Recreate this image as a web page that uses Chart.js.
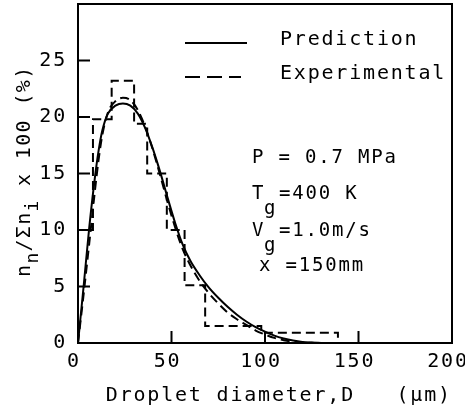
<!DOCTYPE html>
<html>
<head>
<meta charset="utf-8">
<script src="https://cdn.jsdelivr.net/npm/chart.js@4.4.1/dist/chart.umd.min.js"></script>
<style>
html,body{margin:0;padding:0;background:#fff;}
#wrap{width:465px;height:414px;}
</style>
</head>
<body>
<div id="wrap"><canvas id="c" width="465" height="414"></canvas></div>
<script>
// ---- data ----
const diameters = [0,3,6,9,11,13,16,20,24,28,32,36,40,44,48,52,56,60,65,70,75,80,85,90,95,100,105,110,115,120,125,130];
const predictionValues = [0,5.0,10.2,14.6,17.0,18.8,20.3,21.0,21.2,21.0,20.3,19.0,17.2,15.1,12.8,10.6,8.7,7.3,6.0,4.9,4.0,3.2,2.5,1.9,1.4,1.0,0.65,0.4,0.22,0.1,0.04,0];
const experimentalFitValues = [0,4.3,8.8,13.4,16.2,18.4,20.4,21.4,21.7,21.5,20.6,19.1,17.1,14.8,12.4,10.2,8.3,6.9,5.5,4.4,3.5,2.7,2.1,1.6,1.1,0.75,0.45,0.25,0.12,0.05,0.02,0];
const histogramEdges = [0,0,8,18,30,37,47.5,57,68,98,139];
const histogramValues = [0,10,19.8,23.2,19.4,15,10,5.1,1.5,0.9,0];
const xTickValues = [0,50,100,150,200];
const yTickValues = [0,5,10,15,20,25];
const seriesLabels = ['Prediction','Experimental'];
const xTitle = '  Droplet diameter,D   (μm)';
// y title pieces: [text, isSubscript]
const yTitleParts = [['n',false],['n',true],['/Σn',false],['i',true],[' x 100 (%)',false]];
const conditionLines = [
  {main:'P = 0.7 MPa', sub:'', rest:''},
  {main:'T', sub:'g', rest:'=400 K'},
  {main:'V', sub:'g', rest:'=1.0m/s'},
  {main:'x =150mm', sub:'', rest:''}
];

const FONT = "'DejaVu Sans Mono', 'Liberation Mono', monospace";
const SPACING = '1.8px';
Chart.defaults.font.family = FONT;
Chart.defaults.color = '#000';

const spacingPlugin = {
  id:'spacing',
  beforeUpdate(c){ c.ctx.letterSpacing = SPACING; },
  beforeLayout(c){ c.ctx.letterSpacing = SPACING; },
  beforeDraw(c){ c.ctx.letterSpacing = SPACING; }
};

const overlayPlugin = {
  id:'overlay',
  afterDraw(c){
    const ctx = c.ctx, a = c.chartArea, xs = c.scales.x, ys = c.scales.y;
    ctx.save();
    ctx.letterSpacing = SPACING;
    ctx.strokeStyle = '#000';
    ctx.lineWidth = 2;
    ctx.setLineDash([]);
    ctx.strokeRect(a.left, a.top, a.right - a.left, a.bottom - a.top);
    // inward tick marks
    ctx.beginPath();
    xs.ticks.forEach(t => { const p = xs.getPixelForValue(t.value); ctx.moveTo(p, a.bottom); ctx.lineTo(p, a.bottom - 12); });
    ys.ticks.forEach(t => { const p = ys.getPixelForValue(t.value); ctx.moveTo(a.left, p); ctx.lineTo(a.left + 12, p); });
    ctx.stroke();
    // legend
    ctx.font = '20px ' + FONT;
    ctx.fillStyle = '#000';
    ctx.textBaseline = 'middle';
    ctx.textAlign = 'left';
    const lx0 = a.left + 107;
    const rows = [{y:39, len:62, dash:[]}, {y:73, len:56, dash:[15,7]}];
    seriesLabels.forEach((lab, i) => {
      const r = rows[i];
      ctx.setLineDash(r.dash);
      ctx.beginPath();
      ctx.moveTo(lx0, a.top + r.y);
      ctx.lineTo(lx0 + r.len, a.top + r.y);
      ctx.stroke();
      ctx.fillText(lab, a.left + 202, a.top + r.y - 3);
    });
    ctx.setLineDash([]);
    // operating conditions
    ctx.font = '19px ' + FONT;
    const cx = a.left + 174;
    const cy = [154, 190, 227, 262];
    conditionLines.forEach((ln, i) => {
      const y = a.top + cy[i];
      ctx.fillText(ln.main, cx + (i === 3 ? 7 : 0), y);
      if (ln.sub) {
        ctx.fillText(ln.sub, cx + 12, y + 15);
        ctx.fillText(ln.rest, cx + 27, y);
      }
    });
    // rotated y-axis title with subscripts, laid out character by character
    ctx.save();
    ctx.translate(25, 277);
    ctx.rotate(-Math.PI / 2);
    ctx.letterSpacing = '0px';
    let u = 0;
    yTitleParts.forEach(([t, s]) => {
      ctx.font = (s ? '18px ' : '20px ') + FONT;
      for (const ch of t) {
        ctx.fillText(ch, u, s ? 8 : 0);
        u += s ? 12 : 13.4;
      }
    });
    ctx.restore();
    ctx.restore();
  }
};

const pts = (xsArr, ysArr) => xsArr.map((x, i) => ({x, y: ysArr[i]}));

new Chart(document.getElementById('c'), {
  type:'line',
  data:{
    datasets:[
      {label:seriesLabels[0], data:pts(diameters, predictionValues), borderColor:'#000', borderWidth:2, pointRadius:0, cubicInterpolationMode:'monotone', fill:false},
      {label:seriesLabels[1], data:pts(diameters, experimentalFitValues), borderColor:'#000', borderWidth:2, borderDash:[9,5], pointRadius:0, cubicInterpolationMode:'monotone', fill:false},
      {label:seriesLabels[1] + ' histogram', data:pts(histogramEdges, histogramValues), borderColor:'#000', borderWidth:2, borderDash:[9,5], pointRadius:0, stepped:'before', fill:false}
    ]
  },
  options:{
    responsive:false,
    animation:false,
    devicePixelRatio:1,
    layout:{padding:{top:4, right:13, left:0, bottom:0}},
    plugins:{legend:{display:false}, tooltip:{enabled:false}},
    scales:{
      x:{
        type:'linear', min:0, max:200,
        afterBuildTicks: s => { s.ticks = xTickValues.map(v => ({value:v})); },
        afterFit: s => { s.height = 71; s.paddingLeft = 0; s.paddingRight = 0; },
        grid:{drawOnChartArea:false, drawTicks:false},
        border:{display:false},
        ticks:{padding:7, labelOffset:-4, maxRotation:0, autoSkip:false, font:{size:20}, color:'#000'},
        title:{display:true, text:xTitle, font:{size:20}, color:'#000', padding:{top:4, bottom:6}}
      },
      y:{
        type:'linear', min:0, max:30,
        afterBuildTicks: s => { s.ticks = yTickValues.map(v => ({value:v})); },
        afterFit: s => { s.width = 78; s.paddingTop = 0; s.paddingBottom = 0; },
        grid:{drawOnChartArea:false, drawTicks:false},
        border:{display:false},
        ticks:{padding:11, autoSkip:false, font:{size:20}, color:'#000'},
        title:{display:false}
      }
    }
  },
  plugins:[spacingPlugin, overlayPlugin]
});
</script>
</body>
</html>
